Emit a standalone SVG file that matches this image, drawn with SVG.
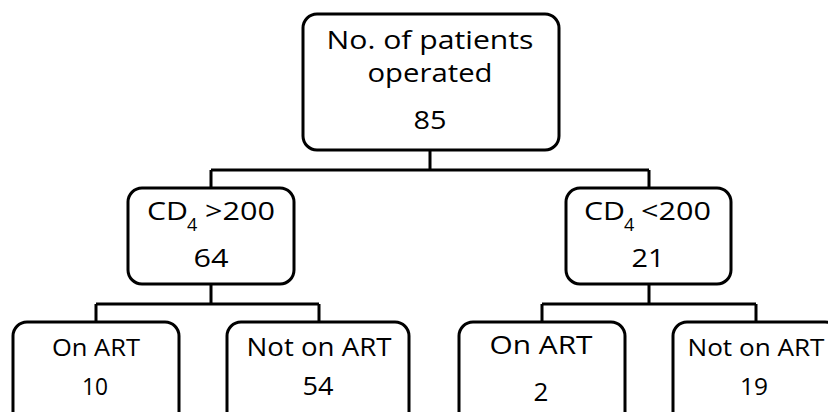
<svg xmlns="http://www.w3.org/2000/svg" width="828" height="412" viewBox="0 0 828 412">
<style>
.box{fill:#fff;stroke:#000;stroke-width:3}
.con{fill:none;stroke:#000;stroke-width:3}
text{font-family:"Open Sans","Liberation Sans",sans-serif;fill:#000}
.big{font-size:26px}
.sm{font-size:23px}
.md{font-size:25px}
</style>
<rect width="828" height="412" fill="#fff"/>
<g id="connectors">
<path class="con" d="M430,150V170M211,170H649M211,170V188M649,170V188"/>
<path class="con" d="M211,284V304M96,304H319M96,304V322M319,304V322"/>
<path class="con" d="M649,284V304M542,304H756M542,304V322M756,304V322"/>
</g>
<g id="root">
<rect class="box" x="303" y="14" width="256" height="136" rx="14"/>
<text class="big" x="430" y="49" text-anchor="middle" textLength="207" lengthAdjust="spacingAndGlyphs">No. of patients</text>
<text class="big" x="430" y="82" text-anchor="middle" textLength="125" lengthAdjust="spacingAndGlyphs">operated</text>
<text class="big" x="430" y="129" text-anchor="middle" textLength="33" lengthAdjust="spacingAndGlyphs">85</text>
</g>
<g id="cd4-high">
<rect class="box" x="128" y="188" width="166" height="96" rx="14"/>
<text class="big" y="220"><tspan x="147" textLength="41" lengthAdjust="spacingAndGlyphs">CD</tspan><tspan x="187" y="231" font-size="18">4</tspan><tspan x="205" y="220" textLength="70" lengthAdjust="spacingAndGlyphs">&gt;200</tspan></text>
<text class="big" x="211" y="267" text-anchor="middle" textLength="35" lengthAdjust="spacingAndGlyphs">64</text>
</g>
<g id="cd4-low">
<rect class="box" x="566" y="188" width="165" height="96" rx="14"/>
<text class="big" y="220"><tspan x="584" textLength="41" lengthAdjust="spacingAndGlyphs">CD</tspan><tspan x="624" y="231" font-size="18">4</tspan><tspan x="641" y="220" textLength="70" lengthAdjust="spacingAndGlyphs">&lt;200</tspan></text>
<text class="big" x="648" y="267" text-anchor="middle" textLength="33" lengthAdjust="spacingAndGlyphs">21</text>
</g>
<g id="high-on-art">
<rect class="box" x="13" y="322" width="166" height="110" rx="14"/>
<text class="sm" x="96" y="356" text-anchor="middle" textLength="88" lengthAdjust="spacingAndGlyphs">On ART</text>
<text class="sm" x="95" y="395" text-anchor="middle" textLength="26" lengthAdjust="spacingAndGlyphs">10</text>
</g>
<g id="high-not-on-art">
<rect class="box" x="227" y="322" width="182" height="110" rx="14"/>
<text class="md" x="319" y="356" text-anchor="middle" textLength="145" lengthAdjust="spacingAndGlyphs">Not on ART</text>
<text class="md" x="318" y="395" text-anchor="middle" textLength="31" lengthAdjust="spacingAndGlyphs">54</text>
</g>
<g id="low-on-art">
<rect class="box" x="459" y="322" width="166" height="110" rx="14"/>
<text class="big" x="541" y="354" text-anchor="middle" textLength="103" lengthAdjust="spacingAndGlyphs">On ART</text>
<text class="big" x="541" y="401" text-anchor="middle">2</text>
</g>
<g id="low-not-on-art">
<rect class="box" x="673" y="322" width="166" height="110" rx="14"/>
<text class="sm" x="756" y="356" text-anchor="middle" textLength="137" lengthAdjust="spacingAndGlyphs">Not on ART</text>
<text class="sm" x="754" y="395" text-anchor="middle" textLength="28" lengthAdjust="spacingAndGlyphs">19</text>
</g>
</svg>
